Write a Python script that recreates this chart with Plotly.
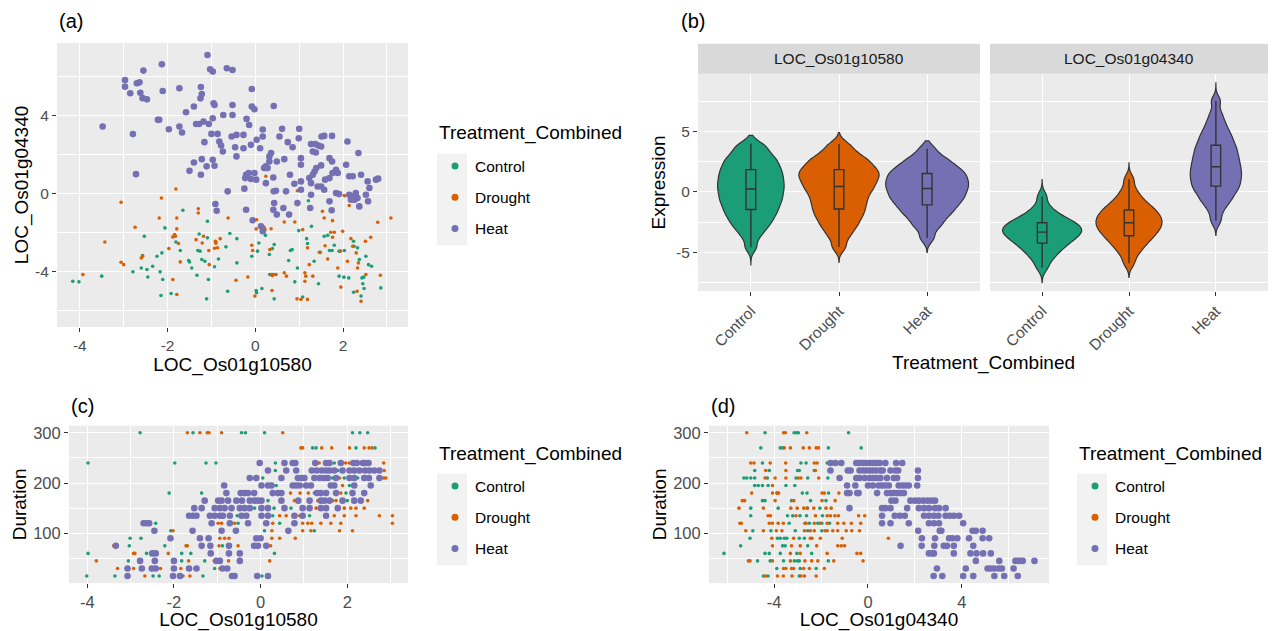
import plotly.graph_objects as go

W, H = 1274, 631
FONT = "Liberation Sans, Arial, Helvetica, sans-serif"

treatments = ["Control", "Drought", "Heat"]
colors = ["#1B9E77", "#D95F02", "#7570B3"]
point_sizes = [3.6, 3.6, 6.6]

# ---------------- Panel (a): LOC_Os01g10580 (x) vs LOC_Os01g04340 (y) ----------------
a_control = [(-4.16, -4.48), (-4.02, -4.51), (-3.50, -4.22), (-2.79, -4.00), (-2.53, -2.18), (-2.57, -3.17),
             (-2.60, -3.80), (-2.47, -3.88), (-2.45, -4.26), (-2.34, -3.71), (-2.24, -3.20), (-2.13, -3.03),
             (-2.06, -1.75), (-2.17, -4.00), (-2.11, -4.39), (-2.15, -5.21), (-1.92, -5.11), (-1.81, -2.47),
             (-1.71, -2.91), (-1.65, -0.85), (-1.52, -3.42), (-1.50, -3.49), (-1.45, -3.80), (-1.33, -4.17),
             (-1.31, -2.91), (-1.26, -2.94), (-1.28, -2.06), (-1.22, -3.37), (-1.15, -3.46), (-1.09, -1.41),
             (-1.09, -2.26), (-1.11, -5.38), (-1.07, -4.39), (-0.93, -3.74), (-0.90, -2.47), (-0.84, -3.34),
             (-0.67, -2.72), (-0.58, -2.04), (-0.63, -4.99), (-0.42, -3.54), (-0.42, -2.30), (-0.08, -3.20),
             (0.02, -4.95), (0.03, -5.07), (0.08, -2.52), (0.05, -2.94), (0.15, -4.85), (0.23, -2.13),
             (0.32, -3.11), (0.43, -2.60), (0.39, -2.81), (0.33, -4.14), (0.41, -4.14), (0.43, -5.38),
             (0.76, -3.42), (0.80, -2.91), (0.84, -2.86), (0.90, -4.51), (0.96, -3.80), (0.99, -1.89),
             (1.08, -5.29), (1.17, -2.30), (1.19, -2.55), (1.28, -1.67), (1.34, -3.46), (1.21, -0.36),
             (1.44, -4.61), (1.48, -3.00), (1.57, -2.18), (1.65, -2.13), (1.69, -2.91), (1.75, -2.91),
             (1.80, -2.64), (1.91, -2.94), (1.91, -4.22), (2.03, -2.91), (2.02, -4.27), (2.13, -4.31),
             (2.24, -2.43), (2.33, -2.77), (2.43, -4.31), (2.47, -4.27), (2.45, -4.61), (2.48, -4.85),
             (2.41, -5.24), (2.24, -5.04), (2.37, -3.37), (2.52, -3.20), (2.58, -3.63), (2.65, -3.71),
             (2.86, -4.82), (2.25, -2.69), (2.16, -0.14)]

a_drought = [(-3.06, -0.44), (-3.43, -2.47), (-2.74, -1.72), (-3.06, -3.51), (-3.00, -3.63), (-2.57, -3.20),
             (-2.60, -3.29), (-3.93, -4.14), (-2.14, -0.22), (-2.19, -1.24), (-1.81, 0.24), (-1.79, -1.24),
             (-1.79, -1.80), (-1.84, -2.09), (-1.82, -2.18), (-1.88, -2.21), (-1.97, -2.81), (-1.75, -2.55),
             (-1.71, -3.49), (-1.88, -4.39), (-1.79, -5.16), (-1.30, -0.77), (-1.30, -0.99), (-1.35, -2.35),
             (-1.18, -2.18), (-1.21, -2.52), (-1.06, -2.91), (-0.91, -2.43), (-0.90, -2.54), (-0.93, -2.79),
             (-0.86, -2.77), (-0.80, -2.30), (-1.05, -3.63), (-0.44, -4.43), (-0.62, -1.24), (-0.17, -4.26),
             (-0.08, -2.64), (-0.06, -2.91), (0.02, -1.80), (0.03, -1.33), (-0.01, -5.24), (0.20, -1.72),
             (0.22, -1.84), (0.36, -1.79), (0.24, 0.89), (0.33, -2.86), (0.38, -4.14), (0.39, -4.19),
             (0.47, -4.14), (0.38, -4.95), (0.66, -1.45), (0.66, -4.05), (0.71, -4.22), (0.95, -5.38),
             (1.04, -5.41), (1.19, -5.41), (0.96, 0.15), (0.90, -1.45), (1.08, -1.84), (1.13, -4.05),
             (1.15, -4.22), (1.13, -4.48), (1.19, -2.77), (1.23, -3.63), (1.31, -4.22), (1.53, -0.90),
             (1.57, -1.24), (1.59, -2.66), (1.72, -0.39), (1.76, -1.38), (1.72, -1.97), (1.80, -1.97),
             (1.76, -2.23), (1.65, -3.34), (1.88, -3.80), (1.95, -4.78), (1.94, -2.94), (1.99, -1.92),
             (2.03, -0.10), (2.14, -0.60), (2.18, -2.30), (2.10, -3.46), (2.22, -2.69), (2.33, -3.80),
             (2.35, -3.54), (2.32, -4.99), (2.41, -5.50), (2.51, -2.43), (2.52, -4.14), (2.63, -2.23),
             (2.79, -1.46), (2.85, -4.17), (3.09, -1.24), (2.30, -3.03), (1.46, -3.00)]

a_heat = [(-1.09, 7.10), (-2.13, 6.62), (-2.55, 6.30), (-1.03, 6.37), (-0.97, 6.25), (-0.65, 6.42), (-0.52, 6.33),
          (-2.97, 5.82), (-2.97, 5.48), (-2.70, 5.65), (-2.64, 5.70), (-2.85, 5.14), (-2.62, 5.17), (-2.57, 4.89),
          (-2.47, 4.83), (-2.11, 5.26), (-1.73, 5.40), (-1.24, 5.46), (-1.22, 5.10), (-1.25, 4.88), (-0.08, 5.36),
          (-0.95, 4.63), (-0.93, 4.54), (-0.52, 4.54), (-0.08, 4.46), (-0.02, 4.32), (0.42, 4.49), (-1.40, 4.46),
          (-1.58, 4.17), (-2.22, 3.78), (-2.19, 3.78), (-3.48, 3.44), (-1.97, 3.30), (-1.73, 3.44), (-1.67, 3.13),
          (-1.35, 3.57), (-1.28, 3.57), (-1.18, 3.69), (-1.06, 3.57), (-0.97, 3.86), (-0.73, 4.03), (-0.52, 4.03),
          (-0.20, 3.83), (-0.14, 3.52), (-2.79, 3.05), (-1.00, 3.06), (-0.86, 3.06), (-1.16, 2.64), (-0.82, 2.67),
          (-0.78, 2.47), (-0.74, 2.16), (-0.54, 2.93), (-0.43, 3.01), (-0.27, 3.01), (-0.46, 2.38), (-0.43, 1.91),
          (-0.27, 2.33), (-0.10, 2.50), (0.03, 2.76), (0.17, 2.93), (0.17, 3.29), (0.11, 2.33), (0.61, 3.32),
          (0.55, 2.93), (1.00, 3.32), (0.99, 2.84), (0.74, 2.64), (0.85, 2.38), (1.27, 2.54), (1.37, 2.54),
          (1.44, 2.47), (1.50, 2.42), (1.31, 2.16), (1.38, 2.11), (1.51, 2.93), (1.57, 2.96), (1.75, 2.96),
          (2.10, 2.67), (2.35, 2.08), (1.69, 1.82), (1.75, 1.65), (1.50, 1.45), (1.84, 1.23), (1.88, 1.06),
          (2.07, 1.48), (2.14, 0.89), (2.22, 0.89), (2.41, 0.97), (2.56, 0.63), (2.75, 0.72), (2.80, 0.77),
          (2.60, 0.29), (2.52, -0.05), (2.57, -0.39), (2.37, -0.65), (2.14, -0.05), (2.22, -0.14), (2.29, 0.03),
          (2.33, -0.22), (2.18, -0.31), (2.26, -0.31), (1.59, 0.72), (1.69, 0.80), (1.76, 1.06), (1.39, 1.31),
          (1.35, 1.14), (1.31, 0.97), (1.23, 0.80), (1.27, 0.54), (1.42, 0.37), (1.50, 0.37), (1.57, 0.20),
          (1.84, 0.03), (1.91, -0.02), (1.69, -0.39), (1.74, -0.85), (1.27, -0.05), (1.25, -0.73), (1.04, 0.63),
          (1.04, 0.20), (0.89, 0.51), (0.79, 0.97), (1.04, 1.82), (1.04, 1.48), (0.66, 1.77), (0.32, 1.65),
          (0.36, 2.08), (0.24, 1.40), (0.20, 1.31), (0.28, 1.31), (0.32, 1.91), (0.49, 1.65), (0.24, 0.54),
          (0.41, 0.83), (0.42, 0.12), (0.47, 0.15), (0.70, 0.12), (0.96, -0.48), (0.43, -0.48), (0.41, -0.82),
          (0.49, -1.07), (0.64, -0.73), (0.77, -1.07), (-0.21, 0.97), (-0.23, 0.80), (-0.15, 1.06), (-0.10, 0.75),
          (0.02, 0.72), (-0.02, 1.06), (-0.25, 0.26), (-0.63, 0.12), (-0.91, -0.53), (-0.88, -0.87), (-0.21, -0.82),
          (-0.06, -1.36), (0.13, -1.67), (0.17, -1.92), (-0.97, 1.74), (-1.22, 1.77), (-1.40, 1.60), (-1.50, 1.17),
          (-1.24, 0.97), (-1.11, 1.40), (-0.93, 1.43), (-2.72, 1.00)]

# ---------------- Panel (b): expression samples per gene / treatment ----------------
b_10580_control = [-4.58, -3.74, -3.29, -2.91, -2.66, -2.42, -2.17, -1.94, -1.75, -1.56, -1.37, -1.18,
                   -0.99, -0.82, -0.66, -0.50, -0.33, -0.17, 0.00, 0.16, 0.31, 0.47, 0.62, 0.78, 0.94, 1.10,
                   1.26, 1.43, 1.59, 1.75, 1.92, 2.10, 2.29, 2.48, 2.67, 2.86, 3.09, 3.40, 3.70, 4.00]
b_10580_drought = [-4.56, -3.75, -3.27, -2.87, -2.58, -2.28, -1.99, -1.76, -1.53, -1.30, -1.06, -0.84,
                   -0.63, -0.42, -0.20, 0.01, 0.18, 0.35, 0.52, 0.69, 0.86, 1.03, 1.17, 1.32, 1.47, 1.61, 1.76,
                   1.91, 2.07, 2.27, 2.46, 2.65, 2.85, 3.09, 3.51, 3.94]
b_10580_heat = [-3.82, -2.99, -2.59, -2.19, -1.88, -1.65, -1.42, -1.19, -0.97, -0.80, -0.63, -0.46, -0.29,
                -0.12, 0.04, 0.20, 0.35, 0.50, 0.65, 0.80, 0.95, 1.11, 1.27, 1.43, 1.59, 1.75, 1.91, 2.12, 2.38,
                2.64, 2.90, 3.55]
b_04340_control = [-0.38, -1.20, -1.62, -1.90, -2.11, -2.26, -2.42, -2.55, -2.66, -2.77, -2.88, -2.98,
                   -3.08, -3.18, -3.28, -3.38, -3.48, -3.59, -3.71, -3.83, -3.95, -4.09, -4.24, -4.40, -4.58,
                   -4.80, -5.01, -5.31, -5.67, -6.28]
b_04340_drought = [1.03, 0.20, -0.29, -0.64, -0.92, -1.13, -1.32, -1.50, -1.66, -1.80, -1.95, -2.09, -2.22,
                   -2.35, -2.48, -2.62, -2.75, -2.88, -3.01, -3.16, -3.31, -3.46, -3.63, -3.81, -4.00, -4.24,
                   -4.48, -4.80, -5.21, -5.90]
b_04340_heat = [7.50, 6.49, 5.86, 5.45, 5.03, 4.75, 4.48, 4.21, 3.95, 3.74, 3.53, 3.32, 3.11, 2.91, 2.72,
                2.53, 2.34, 2.16, 1.97, 1.80, 1.63, 1.45, 1.28, 1.11, 0.93, 0.75, 0.56, 0.38, 0.19, 0.01, -0.25,
                -0.52, -0.78, -1.09, -1.62, -2.40]
# observed extremes (violin tips) per gene / treatment
b_10580_range = [(-6.03, 4.66), (-5.84, 4.90), (-5.00, 4.20)]
b_04340_range = [(-7.50, 1.00), (-7.06, 2.40), (-3.60, 9.00)]
b_genes = ["LOC_Os01g10580", "LOC_Os01g04340"]

# ---------------- Panels (c) and (d): Duration levels ----------------
durations = [300, 270, 240, 225, 210, 195, 180, 165, 150, 135, 120, 105, 90, 75, 60, 45, 30, 15]

# (c) LOC_Os01g10580 values, one list per duration level
c_control = [[-2.78, -1.56, -0.44, -0.35, 0.09, 2.12, 2.29, 2.47],
             [1.20, 1.28, 2.20, 2.64],
             [-3.98, -1.98, -1.26, -1.03, 0.34, 1.70],
             [0.34, 1.78, 2.20],
             [0.05, 1.66, 1.93, 2.24],
             [0.36, 2.05],
             [-2.11, -1.36, 0.35, 1.24, 1.97],
             [0.17, 2.00],
             [-0.14, 0.31, 0.70],
             [-0.54, 0.28, 1.13],
             [-2.42, -0.52, 0.44],
             [-2.07, 0.09, 1.24],
             [-3.01, -2.76],
             [-3.03, -2.21, -0.88],
             [-3.98, -2.63, -1.82, -1.61, 0.32],
             [-3.05, -1.82, -1.29],
             [-2.45, -1.06],
             [-4.01, -3.36, -2.48, -2.34, -1.33, 0.03]]
c_drought = [[-1.69, -1.40, -1.23, -1.19, -0.90, 0.51],
             [0.93, 0.97, 1.41, 1.64, 2.05, 2.39, 2.50, 2.57],
             [1.35, 1.96, 2.04, 2.31, 2.84],
             [2.85],
             [1.82, 2.84, 2.89],
             [1.89],
             [0.69, 0.91, 1.10, 1.85],
             [0.78, 1.32, 1.66, 1.74, 2.47],
             [1.28, 1.93, 2.08, 2.20, 2.39],
             [0.44, 0.59, 0.90, 1.70, 1.93, 2.20, 2.74, 3.04],
             [-0.98, -0.90, -0.60, 0.28, 0.97, 1.09, 1.18, 1.39, 1.62, 1.85, 3.04],
             [-2.02, 0.26, 0.97, 1.16, 1.82, 2.12],
             [-0.94, -0.83, -0.73, 0.26, 0.44, 0.80],
             [-3.39, -1.72, -1.69, -0.96, -0.52, 0.23],
             [-2.93, -2.90, -2.13],
             [-3.79, -2.02, -1.66, -1.07, -0.74, 0.21],
             [-3.30, -2.93, -2.31, -1.84, -0.94],
             [-2.67, -2.05, -1.79, -1.63]]
c_heat = [[],
          [],
          [-0.02, 0.55, 0.74, 0.80, 1.26, 1.51, 1.59, 1.85, 2.14, 2.22, 2.36, 2.41, 2.49],
          [0.17, 0.59, 0.82, 1.18, 1.29, 1.41, 1.51, 1.59, 1.70, 1.89, 2.05, 2.16, 2.28, 2.41, 2.51, 2.62, 2.74],
          [-0.25, -0.10, 0.48, 0.86, 0.95, 1.01, 1.24, 1.36, 1.46, 1.55, 1.74, 2.05, 2.16, 2.39, 2.50, 2.74],
          [-0.84, 0.02, 0.17, 0.25, 0.74, 0.82, 0.90, 1.05, 1.16, 1.62, 1.70, 2.16, 2.54],
          [-0.79, -0.46, -0.37, -0.29, -0.15, 0.28, 0.40, 0.48, 1.30, 1.39, 1.51, 1.74, 2.12, 2.39],
          [-1.29, -0.98, -0.90, -0.75, -0.56, -0.43, -0.25, -0.14, -0.06, 0.02, 0.48, 0.87, 1.13, 1.39, 1.47,
           1.59, 1.89, 2.16, 2.31],
          [-1.53, -1.36, -1.06, -0.94, -0.83, -0.67, -0.48, -0.37, -0.25, 0.02, 0.17, 0.55, 0.97, 1.13, 1.39,
           1.51, 1.78],
          [-1.65, -1.56, -1.48, -1.17, -1.06, -0.94, -0.87, -0.71, -0.44, -0.33, 0.02, 0.17, 0.78, 0.97, 1.51],
          [-2.70, -2.63, -2.57, -1.13, -0.71, -0.29, 0.13, 0.78],
          [-2.45, -1.57, -0.90, -0.57, 0.64],
          [-2.08, -1.40, -1.20, -0.10, 0.00],
          [-3.34, -1.36, -1.16, -0.73, -0.15, -0.06, 0.13],
          [-2.50, -2.42, -1.15, -0.73, -0.48],
          [-2.78, -2.44, -2.00, -1.02, -0.94, -0.48],
          [-3.07, -2.74, -2.51, -2.42, -2.00, -1.65, -1.48, -0.88, -0.77],
          [-3.07, -2.02, -1.86, -0.66, -0.60, -0.08, 0.17]]

# (d) LOC_Os01g04340 values, one list per duration level
d_control = [[-4.39, -3.15, -3.05, -2.97, -0.83],
             [-4.57, -3.74, -3.64, -1.69, -0.29],
             [-4.50, -2.86, -2.64, -1.74],
             [-4.83, -4.21, -3.00, -2.93, -2.29],
             [-5.29, -5.17, -5.00, -4.83, -4.29, -3.07, -2.57, -1.71],
             [-4.83, -4.68, -4.50, -4.26, -3.50, -3.12],
             [-3.86, -2.80, -2.60, -1.68],
             [-4.50, -4.39, -3.26, -2.45, -1.79],
             [-5.00, -3.83, -2.58, -2.05],
             [-5.00, -3.43, -3.21, -2.90, -2.62, -1.94],
             [-3.36, -2.50, -2.14, -1.97, -1.64],
             [-4.91, -4.14, -3.10, -2.57, -1.97],
             [-5.03, -3.86, -3.74, -3.57, -3.46, -2.93, -2.71],
             [-5.43, -3.64, -3.53, -2.57],
             [-6.14, -4.39, -4.21, -3.74, -3.03, -2.40],
             [-4.71, -4.17, -3.60, -3.14, -3.00, -2.93, -1.69],
             [-3.89, -2.89, -2.21],
             [-4.46, -4.26, -2.93]]
d_drought = [[-5.17, -3.60, -3.52, -2.61],
             [-3.57, -3.31, -2.76, -2.50, -2.21, -2.11],
             [-5.00, -4.86, -4.17, -3.51, -2.29, -2.17],
             [-4.36, -3.50, -2.24],
             [-4.39, -3.96, -3.50, -2.97, -2.86, -2.10],
             [-4.07],
             [-4.96, -4.07, -3.89, -3.81, -1.96, -1.86, -1.24],
             [-5.36, -5.26, -3.96, -3.16, -1.96, -1.40],
             [-5.50, -4.46, -3.29, -3.02, -2.74, -2.60, -2.31, -1.79, -1.57],
             [-4.26, -4.16, -3.07, -2.24, -1.74, -1.60, -1.41, -1.26, -0.40, -0.14],
             [-5.46, -5.40, -4.21, -4.07, -3.83, -3.61, -2.69, -2.64, -2.29, -2.03, -1.74, -1.29, -1.03,
              -0.71, -0.31],
             [-5.21, -4.46, -3.91, -3.67, -2.71, -2.46, -2.29, -1.83, -1.74, -1.50, -1.29, -0.93, -0.69, -0.36],
             [-4.10, -3.17, -2.46, -2.39, -2.03, -1.10, 0.87],
             [-4.07, -3.26, -2.89, -2.19, -1.29, -1.14, -1.00],
             [-3.31, -2.89, -1.74, -0.47, -0.31],
             [-5.10, -5.03, -4.07, -3.31, -2.69, -2.40, -2.14, -1.46, -0.21],
             [-3.60, -3.50, -3.26, -3.17, -2.74, -2.50, -1.86],
             [-4.36, -3.86, -3.61, -3.24, -2.86, -2.71, -2.21]]
d_heat = [[],
          [],
          [-1.60, -1.39, -1.14, -0.50, -0.36, -0.21, -0.07, 0.07, 0.21, 0.36, 0.50, 0.74, 1.20, 1.46],
          [-1.60, -0.86, -0.74, -0.36, -0.21, -0.07, 0.07, 0.21, 0.36, 0.53, 0.63, 0.96, 1.17, 1.29, 2.13],
          [-1.21, -0.50, -0.36, -0.14, 0.07, 0.21, 0.36, 0.53, 0.81, 1.10, 1.24, 2.13],
          [-0.89, -0.54, 0.00, 0.21, 0.46, 0.60, 0.74, 0.89, 1.31, 1.46, 1.60, 1.74, 2.10],
          [-0.89, -0.79, -0.46, -0.40, 0.39, 0.81, 0.96, 1.10, 1.24, 1.39, 1.53],
          [1.00, 1.17, 1.81, 2.00, 2.17, 2.36, 2.54, 2.71, 2.86],
          [-0.79, 0.60, 0.74, 0.96, 1.67, 2.17, 2.39, 2.60, 2.86, 3.03, 3.31],
          [0.60, 1.14, 1.36, 1.57, 2.39, 2.60, 2.81, 3.00, 3.31, 3.49, 3.67, 3.89],
          [0.60, 0.96, 1.74, 2.60, 2.81, 3.03, 4.06],
          [2.14, 3.06, 3.13, 4.46, 4.60, 4.89],
          [2.30, 2.86, 3.46, 3.60, 3.81, 4.31, 4.89, 5.17],
          [1.39, 2.29, 2.83, 3.23, 3.37, 3.66, 4.49],
          [2.60, 2.74, 2.81, 3.66, 4.37, 4.63, 4.91, 5.24],
          [4.60, 5.60, 6.29, 6.39, 6.49, 6.60, 7.10],
          [2.94, 4.17, 5.10, 5.24, 5.39, 5.57, 5.71, 6.21],
          [2.80, 3.17, 4.06, 4.49, 5.39, 5.81, 6.39]]

# tick positions (major labels / minor grid) per axis
a_x_ticks, a_x_minor = [-4, -2, 0, 2], [-3, -1, 1, 3]
a_y_ticks, a_y_minor = [-4, 0, 4], [-6, -2, 2, 6]
b_y_ticks, b_y_minor = [-5, 0, 5], [-7.5, -2.5, 2.5, 7.5]
c_x_ticks, c_x_minor = [-4, -2, 0, 2], [-3, -1, 1, 3]
dur_ticks, dur_minor = [100, 200, 300], [50, 150, 250]
d_x_ticks, d_x_minor = [-4, 0, 4], [-6, -2, 2, 6]


def px_x(p):
    return p / W


def px_y(p):
    return 1 - p / H


def flatten(rows):
    xs, ys = [], []
    for dur, vals in zip(durations, rows):
        for v in vals:
            xs.append(v)
            ys.append(dur)
    return xs, ys


fig = go.Figure()

# ---- panel (a) scatter
for name, pts, col, sz in zip(treatments, [a_control, a_drought, a_heat], colors, point_sizes):
    xs = [p[0] for p in pts]
    ys = [p[1] for p in pts]
    fig.add_trace(go.Scatter(x=xs, y=ys, mode="markers", name=name, showlegend=False,
                             marker=dict(color=col, size=sz, line=dict(width=0)),
                             xaxis="x", yaxis="y", hoverinfo="skip"))

# ---- panel (b) violins
violin_widths = [[0.755, 0.91, 0.94], [0.91, 0.76, 0.59]]
gene_samples = [[b_10580_control, b_10580_drought, b_10580_heat],
                [b_04340_control, b_04340_drought, b_04340_heat]]
gene_ranges = [b_10580_range, b_04340_range]
for gi, xax in enumerate(["x2", "x3"]):
    for ti, name in enumerate(treatments):
        vals = gene_samples[gi][ti]
        vw = violin_widths[gi][ti]
        fig.add_trace(go.Violin(
            x=[name] * len(vals), y=vals, name=name, showlegend=False,
            xaxis=xax, yaxis="y2", width=vw, spanmode="manual", span=list(gene_ranges[gi][ti]),
            bandwidth=0.42,
            fillcolor=colors[ti], opacity=1, line=dict(color="#333333", width=1.2),
            points=False, hoverinfo="skip",
            box=dict(visible=True, width=0.11 / vw, fillcolor="rgba(0,0,0,0)",
                     line=dict(color="#333333", width=1.4)),
            meanline=dict(visible=False)))

# ---- panels (c) and (d) scatter
for rows_list, xax, yax in [([c_control, c_drought, c_heat], "x4", "y4"),
                            ([d_control, d_drought, d_heat], "x5", "y5")]:
    for name, rows, col, sz in zip(treatments, rows_list, colors, point_sizes):
        xs, ys = flatten(rows)
        fig.add_trace(go.Scatter(x=xs, y=ys, mode="markers", name=name, showlegend=False,
                                 marker=dict(color=col, size=sz, line=dict(width=0)),
                                 xaxis=xax, yaxis=yax, hoverinfo="skip"))

# ---- legend key entries (one legend per scatter panel)
for leg, xax, yax in [("legend", "x", "y"), ("legend2", "x4", "y4"), ("legend3", "x5", "y5")]:
    for name, col in zip(treatments, colors):
        fig.add_trace(go.Scatter(x=[None], y=[None], mode="markers", name=name,
                                 marker=dict(color=col, size=7), legend=leg,
                                 legendgroup=leg + name, showlegend=True,
                                 xaxis=xax, yaxis=yax, hoverinfo="skip"))

tickfont_small = dict(family=FONT, size=15.5, color="#4D4D4D")
tickfont_big = dict(family=FONT, size=16.5, color="#4D4D4D")
titlefont = dict(family=FONT, size=19, color="black")


def axis(domain, rng=None, ticks=None, minor=None, title=None, anchor=None, tfont=tickfont_small,
         standoff=4, **kw):
    d = dict(domain=domain, showgrid=True, gridcolor="white", gridwidth=1.2, zeroline=False,
             showline=False, ticks="outside", ticklen=4, tickwidth=1.1, tickcolor="#333333",
             tickfont=tfont, anchor=anchor, layer="below traces")
    if rng is not None:
        d["range"] = rng
    if ticks is not None:
        d["tickmode"] = "array"
        d["tickvals"] = ticks
        d["ticktext"] = [str(v) for v in ticks]
    if minor is not None:
        d["minor"] = dict(tickmode="array", tickvals=minor, showgrid=True, gridcolor="white",
                          gridwidth=0.6, ticks="")
    if title is not None:
        d["title"] = dict(text=title, font=titlefont, standoff=standoff)
    d.update(kw)
    return d


legend_common = dict(bgcolor="rgba(0,0,0,0)", borderwidth=0, xanchor="left", yanchor="top",
                     font=dict(family=FONT, size=15.5, color="black"),
                     traceorder="grouped", tracegroupgap=8, itemclick=False, itemdoubleclick=False)

fig.update_layout(
    width=W, height=H, autosize=False,
    margin=dict(l=0, r=0, t=0, b=0),
    paper_bgcolor="white", plot_bgcolor="#EBEBEB",
    font=dict(family=FONT, color="black"),
    hovermode=False, violinmode="overlay",
    xaxis=axis([px_x(57), px_x(408)], [-4.52, 3.48], a_x_ticks, a_x_minor, "LOC_Os01g10580", "y"),
    yaxis=axis([px_y(326), px_y(41)], [-6.82, 7.72], a_y_ticks, a_y_minor, "LOC_Os01g04340", "x",
               standoff=1),
    xaxis2=axis([px_x(698), px_x(980)], [-0.6, 2.6], anchor="y2", type="category",
                categoryorder="array", categoryarray=treatments, tickangle=-45),
    xaxis3=axis([px_x(990), px_x(1268)], [-0.6, 2.6], anchor="y2", type="category",
                categoryorder="array", categoryarray=treatments, tickangle=-45),
    yaxis2=axis([px_y(290), px_y(72)], [-8.2, 9.75], b_y_ticks, b_y_minor, "Expression", "x2",
                standoff=5),
    xaxis4=axis([px_x(69), px_x(408)], [-4.42, 3.40], c_x_ticks, c_x_minor, "LOC_Os01g10580", "y4",
                tfont=tickfont_big, standoff=3),
    yaxis4=axis([px_y(583), px_y(425)], [0.75, 314.25], dur_ticks, dur_minor, "Duration", "x4",
                tfont=tickfont_big, standoff=1),
    xaxis5=axis([px_x(709), px_x(1049)], [-6.78, 7.72], d_x_ticks, d_x_minor, "LOC_Os01g04340", "y5",
                tfont=tickfont_big, standoff=3),
    yaxis5=axis([px_y(583), px_y(425)], [0.75, 314.25], dur_ticks, dur_minor, "Duration", "x5",
                tfont=tickfont_big, standoff=1),
    legend=dict(legend_common, x=px_x(435), y=px_y(148)),
    legend2=dict(legend_common, x=px_x(435), y=px_y(469)),
    legend3=dict(legend_common, x=px_x(1075), y=px_y(469)),
)

# legend key backgrounds (ggplot-style grey key boxes)
shapes = []
for x0, y0 in [(437, 152), (437, 473), (1077, 473)]:
    shapes.append(dict(type="rect", xref="paper", yref="paper", x0=px_x(x0), x1=px_x(x0 + 30),
                       y0=px_y(y0 + 92), y1=px_y(y0), fillcolor="#F2F2F2", line=dict(width=0),
                       layer="below"))
# facet strips for panel (b)
for x0, x1 in [(698, 980), (990, 1268)]:
    shapes.append(dict(type="rect", xref="paper", yref="paper", x0=px_x(x0), x1=px_x(x1),
                       y0=px_y(72), y1=px_y(42), fillcolor="#D9D9D9", line=dict(width=0),
                       layer="below"))
fig.update_layout(shapes=shapes)

annotations = []
for gene, (x0, x1) in zip(b_genes, [(698, 980), (990, 1268)]):
    annotations.append(dict(text=gene, xref="paper", yref="paper", x=px_x((x0 + x1) / 2), y=px_y(57),
                            xanchor="center", yanchor="middle", showarrow=False,
                            font=dict(family=FONT, size=15.5, color="#1A1A1A")))
annotations.append(dict(text="Treatment_Combined", xref="paper", yref="paper", x=px_x(983), y=px_y(362),
                        xanchor="center", yanchor="middle", showarrow=False, font=titlefont))
# legend titles
for xp, yp in [(437, 131), (437, 453), (1077, 453)]:
    annotations.append(dict(text="Treatment_Combined", xref="paper", yref="paper", x=px_x(xp), y=px_y(yp),
                            xanchor="left", yanchor="middle", showarrow=False, font=titlefont))
for lab, xp, yp in [("(a)", 57, 19), ("(b)", 679, 19), ("(c)", 69, 405), ("(d)", 709, 405)]:
    annotations.append(dict(text=lab, xref="paper", yref="paper", x=px_x(xp), y=px_y(yp),
                            xanchor="left", yanchor="middle", showarrow=False,
                            font=dict(family=FONT, size=20, color="black")))
fig.update_layout(annotations=annotations)

fig.write_html("out.html", config={"displayModeBar": False},
               post_script="document.body.style.margin='0px';document.body.style.overflow='hidden';")
